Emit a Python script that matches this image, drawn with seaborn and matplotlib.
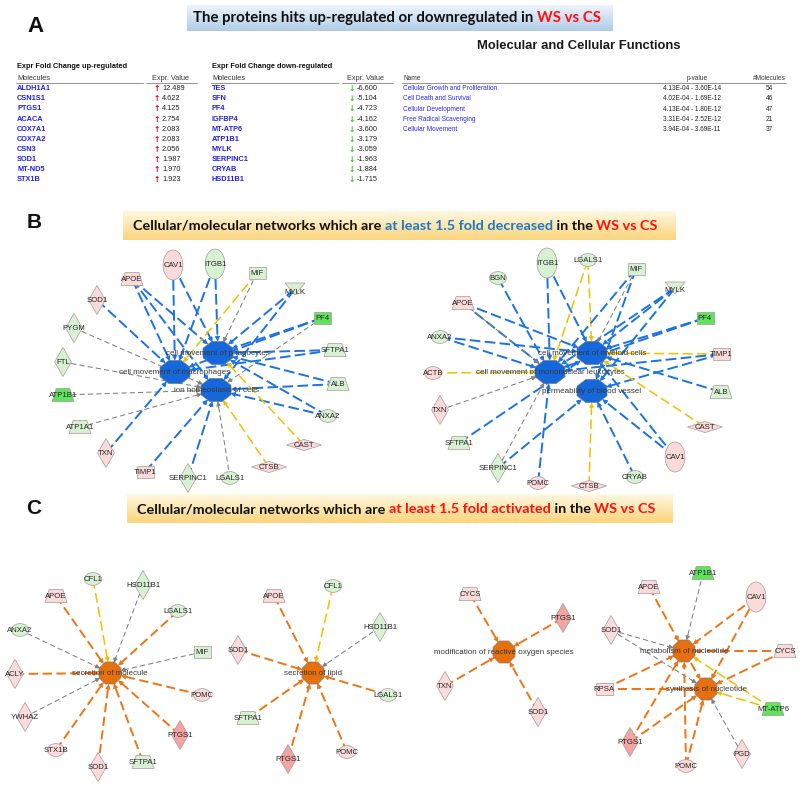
import numpy as np
import pandas as pd
import matplotlib
matplotlib.use("Agg")
import matplotlib.pyplot as plt
import seaborn as sns
from matplotlib.path import Path
from matplotlib.markers import MarkerStyle

sns.set_theme(style="white")
plt.rcParams['font.family'] = ['Liberation Sans', 'DejaVu Sans']

# ---------------- data ----------------
up_molecules = ["ALDH1A1", "CSN1S1", "PTGS1", "ACACA", "COX7A1", "COX7A2", "CSN3", "SOD1", "MT-ND5", "STX1B"]
up_values = [12.489, 4.622, 4.125, 2.754, 2.083, 2.083, 2.056, 1.987, 1.970, 1.923]
down_molecules = ["TES", "SFN", "PF4", "IGFBP4", "MT-ATP6", "ATP1B1", "MYLK", "SERPINC1", "CRYAB", "HSD11B1"]
down_values = [-6.600, -5.104, -4.723, -4.162, -3.600, -3.179, -3.059, -1.963, -1.884, -1.715]
function_names = ["Cellular Growth and Proliferation", "Cell Death and Survival", "Cellular Development",
                  "Free Radical Scavenging", "Cellular Movement"]
function_pvalues = ["4.13E-04 - 3.60E-14", "4.02E-04 - 1.69E-12", "4.13E-04 - 1.80E-12",
                    "3.31E-04 - 2.52E-12", "3.94E-04 - 3.69E-11"]
function_counts = [54, 46, 47, 21, 37]

# molecule regulation: up / up2 (strong up) / down / down2 (strong down)
molecule_tone = {
    "CAV1": "up", "APOE": "up", "SOD1": "up", "CAST": "up", "TXN": "up", "CTSB": "up", "TIMP1": "up",
    "ACTB": "up", "POMC": "up", "ACLY": "up", "YWHAZ": "up", "STX1B": "up", "CYCS": "up", "RPSA": "up",
    "PGD": "up", "PTGS1": "up2",
    "ITGB1": "down", "MIF": "down", "MYLK": "down", "PYGM": "down", "SFTPA1": "down", "FTL": "down",
    "ALB": "down", "ANXA2": "down", "ATP1A1": "down", "SERPINC1": "down", "LGALS1": "down", "BGN": "down",
    "CRYAB": "down", "CFL1": "down", "HSD11B1": "down",
    "PF4": "down2", "ATP1B1": "down2", "MT-ATP6": "down2",
}

# networks: functions + relations (molecule, function index, relation kind)
netB1_functions = ["cell movement of phagocytes", "cell movement of macrophages", "ion homeostasis of cells"]
netB1_edges = [("CAV1", 0, "b"), ("CAV1", 1, "b"), ("ITGB1", 0, "b"), ("ITGB1", 1, "b"), ("APOE", 0, "b"),
               ("APOE", 1, "b"), ("APOE", 2, "b"), ("MIF", 1, "y"), ("MIF", 0, "g"), ("SOD1", 1, "b"),
               ("MYLK", 0, "b"), ("MYLK", 2, "b"), ("PF4", 0, "b"), ("PF4", 1, "b"), ("PF4", 2, "g"),
               ("PYGM", 2, "g"), ("SFTPA1", 0, "b"), ("SFTPA1", 1, "b"), ("FTL", 2, "g"), ("ALB", 0, "b"),
               ("ALB", 2, "b"), ("ATP1B1", 2, "g"), ("ANXA2", 2, "b"), ("ANXA2", 0, "b"), ("ATP1A1", 2, "g"),
               ("CAST", 0, "y"), ("TXN", 1, "b"), ("CTSB", 2, "y"), ("TIMP1", 2, "b"), ("SERPINC1", 2, "b"),
               ("LGALS1", 2, "g")]

netB2_functions = ["cell movement of myeloid cells", "cell movement of mononuclear leukocytes",
                   "permeability of blood vessel"]
netB2_edges = [("ITGB1", 1, "b"), ("ITGB1", 0, "b"), ("LGALS1", 1, "y"), ("LGALS1", 0, "y"), ("MIF", 1, "b"),
               ("MIF", 0, "g"), ("MIF", 2, "b"), ("BGN", 1, "b"), ("MYLK", 0, "b"), ("MYLK", 1, "b"),
               ("MYLK", 2, "b"), ("APOE", 1, "b"), ("APOE", 0, "b"), ("APOE", 1, "g"), ("PF4", 0, "b"),
               ("PF4", 1, "b"), ("ANXA2", 1, "b"), ("ANXA2", 0, "b"), ("TIMP1", 0, "y"), ("TIMP1", 1, "b"),
               ("TIMP1", 2, "b"), ("ACTB", 1, "y"), ("ALB", 0, "b"), ("TXN", 1, "g"), ("CAST", 0, "y"),
               ("SFTPA1", 0, "b"), ("CAV1", 0, "b"), ("CAV1", 2, "b"), ("SERPINC1", 2, "b"),
               ("SERPINC1", 1, "g"), ("CRYAB", 2, "b"), ("POMC", 1, "b"), ("CTSB", 2, "y")]

netC1_functions = ["secretion of molecule"]
netC1_edges = [("CFL1", 0, "y"), ("HSD11B1", 0, "g"), ("APOE", 0, "o"), ("LGALS1", 0, "o"), ("ANXA2", 0, "g"),
               ("MIF", 0, "g"), ("ACLY", 0, "o"), ("POMC", 0, "o"), ("YWHAZ", 0, "g"), ("PTGS1", 0, "o"),
               ("STX1B", 0, "o"), ("SOD1", 0, "o"), ("SFTPA1", 0, "o")]

netC2_functions = ["secretion of lipid"]
netC2_edges = [("APOE", 0, "o"), ("CFL1", 0, "y"), ("HSD11B1", 0, "g"), ("SOD1", 0, "o"), ("LGALS1", 0, "o"),
               ("SFTPA1", 0, "o"), ("POMC", 0, "o"), ("PTGS1", 0, "o")]

netC3_functions = ["modification of reactive oxygen species"]
netC3_edges = [("CYCS", 0, "o"), ("PTGS1", 0, "o"), ("TXN", 0, "o"), ("SOD1", 0, "o")]

netC4_functions = ["metabolism of nucleotide", "synthesis of nucleotide"]
netC4_edges = [("ATP1B1", 0, "g"), ("APOE", 0, "o"), ("CAV1", 0, "o"), ("CAV1", 1, "o"), ("SOD1", 0, "g"),
               ("SOD1", 1, "g"), ("CYCS", 0, "o"), ("CYCS", 1, "o"), ("RPSA", 0, "o"), ("RPSA", 1, "o"),
               ("MT-ATP6", 0, "y"), ("MT-ATP6", 1, "y"), ("PTGS1", 0, "o"), ("PTGS1", 1, "o"), ("PGD", 1, "g"),
               ("POMC", 0, "o"), ("POMC", 1, "o"), ("metabolism of nucleotide", 1, "o")]

# ---------------- layout (pixel positions of the drawing) ----------------
layB1 = {"_f": [(218, 353), (175, 372), (216, 390)],
         "CAV1": (173, 265), "ITGB1": (215, 264), "APOE": (132, 279), "MIF": (257, 273), "SOD1": (97, 300),
         "MYLK": (295, 289), "PF4": (322, 318), "PYGM": (74, 328), "SFTPA1": (335, 350), "FTL": (63, 362),
         "ALB": (338, 384), "ATP1B1": (63, 395), "ANXA2": (328, 416), "ATP1A1": (80, 427), "CAST": (304, 445),
         "TXN": (106, 453), "CTSB": (269, 467), "TIMP1": (145, 472), "SERPINC1": (188, 478), "LGALS1": (230, 478)}
layB2 = {"_f": [(592, 353), (550, 372), (592, 391)],
         "ITGB1": (547, 263), "LGALS1": (588, 260), "MIF": (636, 269), "BGN": (498, 278), "MYLK": (675, 288),
         "APOE": (463, 303), "PF4": (705, 318), "ANXA2": (440, 337), "TIMP1": (721, 354), "ACTB": (433, 373),
         "ALB": (721, 392), "TXN": (440, 410), "CAST": (705, 427), "SFTPA1": (459, 443), "CAV1": (675, 457),
         "SERPINC1": (498, 468), "CRYAB": (635, 477), "POMC": (538, 483), "CTSB": (589, 486)}
layC1 = {"_f": [(110, 673)],
         "CFL1": (93, 579), "HSD11B1": (143, 585), "APOE": (56, 596), "LGALS1": (178, 611), "ANXA2": (20, 630),
         "MIF": (202, 652), "ACLY": (15, 674), "POMC": (202, 695), "YWHAZ": (25, 717), "PTGS1": (180, 735),
         "STX1B": (56, 750), "SOD1": (98, 767), "SFTPA1": (143, 762)}
layC2 = {"_f": [(313, 673)],
         "APOE": (274, 596), "CFL1": (333, 586), "HSD11B1": (380, 627), "SOD1": (238, 650), "LGALS1": (388, 695),
         "SFTPA1": (248, 718), "POMC": (347, 752), "PTGS1": (288, 759)}
layC3 = {"_f": [(504, 652)],
         "CYCS": (470, 594), "PTGS1": (563, 618), "TXN": (445, 686), "SOD1": (538, 712)}
layC4 = {"_f": [(684, 651), (706, 689)],
         "ATP1B1": (703, 573), "APOE": (649, 587), "CAV1": (756, 597), "SOD1": (611, 630), "CYCS": (785, 651),
         "RPSA": (604, 689), "MT-ATP6": (773, 709), "PTGS1": (630, 742), "PGD": (742, 754), "POMC": (686, 766)}

networks = [(netB1_functions, netB1_edges, layB1, "blue"), (netB2_functions, netB2_edges, layB2, "blue"),
            (netC1_functions, netC1_edges, layC1, "orange"), (netC2_functions, netC2_edges, layC2, "orange"),
            (netC3_functions, netC3_edges, layC3, "orange"), (netC4_functions, netC4_edges, layC4, "orange")]

# ---------------- styles ----------------
molecule_shape = {
    "CAV1": "vell", "ITGB1": "vell", "APOE": "trap", "MIF": "rect", "SOD1": "diam", "MYLK": "tri", "PF4": "rect",
    "PYGM": "diam", "SFTPA1": "trap", "FTL": "diam", "ALB": "trap", "ATP1B1": "trap", "ANXA2": "hell",
    "ATP1A1": "trap", "CAST": "hdiam", "TXN": "diam", "CTSB": "hdiam", "TIMP1": "rect", "SERPINC1": "diam",
    "LGALS1": "hell", "BGN": "hell", "ACTB": "hell", "CRYAB": "hell", "POMC": "hell", "CFL1": "hell",
    "HSD11B1": "diam", "ACLY": "diam", "YWHAZ": "diam", "PTGS1": "diam", "STX1B": "hell", "CYCS": "trap",
    "RPSA": "rect", "MT-ATP6": "trap", "PGD": "diam"}
tone_colors = {"up": "#fadada", "up2": "#f4a3a3", "down": "#d6f2d2", "down2": "#5fe35f"}
edge_styles = {"b": ("#1b72e2", 1.4, (5.5, 2.2), 7.5), "y": ("#f0c000", 1.1, (6.5, 2.8), 7),
               "g": ("#808080", 0.75, (5, 3), 6.5), "o": ("#ee7414", 1.4, (4.8, 2.3), 7.5)}
center_colors = {"blue": "#1567dc", "orange": "#e8700c"}
center_radius = {"blue": (15.0, 11.5), "orange": (11.0, 11.0)}


def poly_marker(verts):
    v = list(verts) + [verts[0]]
    return MarkerStyle(Path(np.array(v, dtype=float), closed=True))


def ellipse_marker(w, h):
    t = np.linspace(0, 2 * np.pi, 64, endpoint=False)
    return poly_marker(list(zip(w * np.cos(t), h * np.sin(t))))


def octagon_marker(sx):
    a = np.deg2rad(22.5 + 45 * np.arange(8))
    return poly_marker(list(zip(sx * np.cos(a), np.sin(a))))


px2pt = 0.72
shape_markers = {
    "hell": (ellipse_marker(1.0, 0.75), 17),
    "vell": (ellipse_marker(0.66, 1.0), 30),
    "diam": (poly_marker([(0, 1), (0.58, 0), (0, -1), (-0.58, 0)]), 29),
    "hdiam": (poly_marker([(1, 0), (0, 0.32), (-1, 0), (0, -0.32)]), 35),
    "rect": (poly_marker([(-1, -0.76), (1, -0.76), (1, 0.76), (-1, 0.76)]), 17),
    "trap": (poly_marker([(-1, -0.6), (1, -0.6), (0.62, 0.6), (-0.62, 0.6)]), 22),
    "tri": (poly_marker([(-1, 0.6), (1, 0.6), (0, -0.6)]), 20),
}

# ---------------- figure ----------------
fig = plt.figure(figsize=(8.0, 7.87), dpi=100)
ax = fig.add_axes([0, 0, 1, 1])
ax.set_xlim(0, 800)
ax.set_ylim(787, 0)
ax.set_autoscale_on(False)
ax.axis("off")
renderer = fig.canvas.get_renderer()


def text_width(s, **kw):
    t = ax.text(0, 0, s + "|", **kw)
    t2 = ax.text(0, 0, "|", **kw)
    w = t.get_window_extent(renderer).width - t2.get_window_extent(renderer).width
    t.remove()
    t2.remove()
    return w


def rich_text(segments, xc, y, width, size=10, family="Lato", weight="bold"):
    full = "".join(s for s, _ in segments)
    w0 = text_width(full, fontsize=size, family=family, fontweight=weight)
    size = size * width / w0
    kw = dict(fontsize=size, family=family, fontweight=weight, va="center", ha="left", zorder=6)
    x0 = xc - width / 2
    prefix = ""
    for s, c in segments:
        ax.text(x0 + text_width(prefix, **kw) if prefix else x0, y, s, color=c, **kw)
        prefix += s


def banner(x0, x1, y0, y1, top, bottom):
    cmap = matplotlib.colors.LinearSegmentedColormap.from_list("g", [top, bottom])
    grad = np.linspace(0, 1, 64).reshape(-1, 1)
    ax.imshow(grad, cmap=cmap, extent=[x0, x1, y1, y0], aspect="auto", zorder=1, interpolation="bilinear")


# panel letters
ax.text(35, 26, "A", fontsize=16, fontweight="bold", ha="center", va="center", color="#111111")
ax.text(34, 223, "B", fontsize=15, fontweight="bold", ha="center", va="center", color="#111111")
ax.text(34, 508, "C", fontsize=15, fontweight="bold", ha="center", va="center", color="#111111")

red = "#ff1010"
banner(187, 613, 5, 31, "#eef4fb", "#b0cce8")
rich_text([("The proteins hits up-regulated or downregulated in ", "#111111"), ("WS vs CS", red)], 398, 18, 410)
banner(123, 676, 211, 240, "#fff8e2", "#fbd47c")
rich_text([("Cellular/molecular networks which are ", "#111111"), ("at least 1.5 fold decreased", "#1f78c8"),
           (" in the ", "#111111"), ("WS vs CS", red)], 396.5, 226, 527)
banner(127, 673, 494, 523, "#fff8e2", "#fbd47c")
rich_text([("Cellular/molecular networks which are ", "#111111"), ("at least 1.5 fold activated", red),
           (" in the ", "#111111"), ("WS vs CS", red)], 397, 509, 520)

# ---------------- panel A tables ----------------
tfs = 5.3
blue_txt = "#2020e8"
ax.text(579, 46, "Molecular and Cellular Functions", fontsize=9.4, fontweight="bold", ha="center", va="center",
        color="#1a1a1a")


def mol_table(x, xv, title, mols, vals, arrow, arrow_color, line_end, v_start, v_end):
    ax.text(x, 66, title, fontsize=tfs, fontweight="bold", va="center", color="#111111")
    ax.text(x, 78, "Molecules", fontsize=tfs, va="center", color="#333333")
    ax.text(xv - 5, 78, "Expr. Value", fontsize=tfs, va="center", color="#333333")
    ax.plot([x - 1, line_end], [82.5, 82.5], color="#9a9a9a", lw=0.8)
    ax.plot([v_start, v_end], [82.5, 82.5], color="#9a9a9a", lw=0.8)
    for i, (m, v) in enumerate(zip(mols, vals)):
        y = 88.6 + i * 10.15
        ax.text(x, y, m, fontsize=tfs, fontweight="bold", va="center", color=blue_txt)
        ax.text(xv, y, arrow, fontsize=5.5, fontweight="bold", va="center", ha="center", color=arrow_color,
                family=["DejaVu Sans"])
        ax.text(xv + 5, y, f"{v:.3f}", fontsize=tfs, va="center", color="#222222")


mol_table(17, 157, "Expr Fold Change up-regulated", up_molecules, up_values, "\u2191", "#e00000", 143, 146, 197)
mol_table(212, 352, "Expr Fold Change down-regulated", down_molecules, down_values, "\u2193", "#33c41a", 338,
          342, 393)

ffs = 4.7
ax.text(403, 78, "Name", fontsize=ffs, va="center", color="#333333")
ax.text(697, 78, "p-value", fontsize=ffs, va="center", ha="center", color="#333333")
ax.text(769, 78, "#Molecules", fontsize=ffs, va="center", ha="center", color="#333333")
ax.plot([402, 786], [82.5, 82.5], color="#9a9a9a", lw=0.8)
for i, (n, p, c) in enumerate(zip(function_names, function_pvalues, function_counts)):
    y = 88.5 + i * 10.3
    ax.text(403, y, n, fontsize=ffs, va="center", color="#2a2af0")
    ax.text(692, y, p, fontsize=ffs, va="center", ha="center", color="#222222")
    ax.text(769, y, str(c), fontsize=ffs, va="center", ha="center", color="#222222")

# ---------------- networks ----------------
node_rows = []
center_rows = []
for funcs, edges, lay, kind in networks:
    a, b = center_radius[kind]
    fpos = lay["_f"]
    for src, fi, rel in edges:
        if src in funcs:
            sx, sy = fpos[funcs.index(src)]
        else:
            sx, sy = lay[src]
        tx, ty = fpos[fi]
        d = np.array([tx - sx, ty - sy], dtype=float)
        L = np.hypot(*d)
        u = d / L
        r = 1.0 / np.sqrt((u[0] / a) ** 2 + (u[1] / b) ** 2)
        ex, ey = tx - u[0] * r, ty - u[1] * r
        col, lw, dash, ms = edge_styles[rel]
        ax.plot([sx, ex - u[0] * 4], [sy, ey - u[1] * 4], color=col, lw=lw, dashes=dash, zorder=2,
                solid_capstyle="butt", dash_capstyle="butt")
        ax.annotate("", xy=(ex, ey), xytext=(ex - u[0] * 6, ey - u[1] * 6),
                    arrowprops=dict(arrowstyle="-|>", color=col, lw=0.6, mutation_scale=ms,
                                    shrinkA=0, shrinkB=0), zorder=3)
    names = []
    for src, fi, rel in edges:
        if src not in funcs and src not in names:
            names.append(src)
    for n in names:
        x, y = lay[n]
        node_rows.append(dict(x=x, y=y, name=n, shape=molecule_shape[n], tone=molecule_tone[n]))
    for f, (x, y) in zip(funcs, fpos):
        center_rows.append(dict(x=x, y=y, name=f, kind=kind))

nodes = pd.DataFrame(node_rows)
centers = pd.DataFrame(center_rows)

for shp, (marker, px) in shape_markers.items():
    sub = nodes[nodes["shape"] == shp]
    if sub.empty:
        continue
    sns.scatterplot(data=sub, x="x", y="y", hue="tone", palette=tone_colors, marker=marker,
                    s=(px * px2pt) ** 2, edgecolor="#a89a9a", linewidth=0.5, legend=False, ax=ax, zorder=4)

for kind, sx, px in [("blue", 1.3, 30), ("orange", 1.0, 22)]:
    sub = centers[centers["kind"] == kind]
    sns.scatterplot(data=sub, x="x", y="y", hue="kind", palette=center_colors, marker=octagon_marker(sx),
                    s=(px * px2pt) ** 2, edgecolor="#7a7a7a", linewidth=0.5, legend=False, ax=ax, zorder=4)

for _, r in nodes.iterrows():
    dy = 3 if r["shape"] == "tri" else 0.5
    ax.text(r["x"], r["y"] + dy, r["name"], fontsize=5.6, ha="center", va="center", color="#262626", zorder=5)
for _, r in centers.iterrows():
    ax.text(r["x"], r["y"] + 0.5, r["name"], fontsize=5.8, ha="center", va="center", color="#383838", zorder=5)

ax.set_xlim(0, 800)
ax.set_ylim(787, 0)
ax.axis("off")
fig.savefig("out.png", dpi=100)
